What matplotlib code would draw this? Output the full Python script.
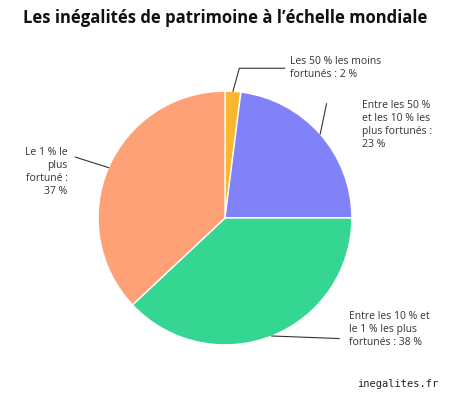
import numpy as np
import matplotlib
matplotlib.use("Agg")
import matplotlib.pyplot as plt

labels = ["Les 50 % les moins\nfortunés : 2 %",
          "Entre les 50 %\net les 10 % les\nplus fortunés :\n23 %",
          "Entre les 10 % et\nle 1 % les plus\nfortunés : 38 %",
          "Le 1 % le\nplus\nfortuné :\n37 %"]
values = [2, 23, 38, 37]
colors = ["#FBB630", "#8282F8", "#34D692", "#FFA176"]

plt.rcParams['font.family'] = ['Open Sans', 'DejaVu Sans']
fig = plt.figure(figsize=(4.5, 4), dpi=100)
ax = fig.add_axes([0.5 - 0.282, 0.455 - 0.3175, 0.564, 0.635])
wedges, _ = ax.pie(values, colors=colors, startangle=90, counterclock=False,
                   wedgeprops=dict(edgecolor="white", linewidth=1))
ax.set_xlim(-1, 1); ax.set_ylim(-1, 1); ax.set_aspect('equal')

text_pos = [(0.51, 1.18, 'left'), (1.08, 0.73, 'left'), (0.98, -0.88, 'left'), (-1.24, 0.36, 'right')]
line_end = [(0.47, 1.18), (0.80, 0.90), (0.90, -0.95), (-1.18, 0.48)]
for w, lab, (tx, ty, ha), (lx, ly) in zip(wedges, labels, text_pos, line_end):
    ang = np.deg2rad((w.theta1 + w.theta2) / 2)
    ex, ey = np.cos(ang), np.sin(ang)
    if ha == 'left' and abs(ly - ty) < 0.01:
        ax.plot([ex, ex + 0.05, lx], [ey, ly, ly], color="#333333", lw=0.8, clip_on=False)
    else:
        ax.plot([ex, lx], [ey, ly], color="#333333", lw=0.8, clip_on=False)
    ax.text(tx, ty, lab, ha=ha, va='center', fontsize=7.5, color="#333333",
            linespacing=1.25, clip_on=False)

fig.text(0.5, 0.955, "Les inégalités de patrimoine à l’échelle mondiale",
         ha='center', va='center', fontsize=12, fontweight='bold', color="#111111")
fig.text(0.975, 0.04, "inegalites.fr", ha='right', va='center', fontsize=7.5,
         family='DejaVu Sans Mono', color="#222222")
fig.savefig("out.png", dpi=100, facecolor="white")
